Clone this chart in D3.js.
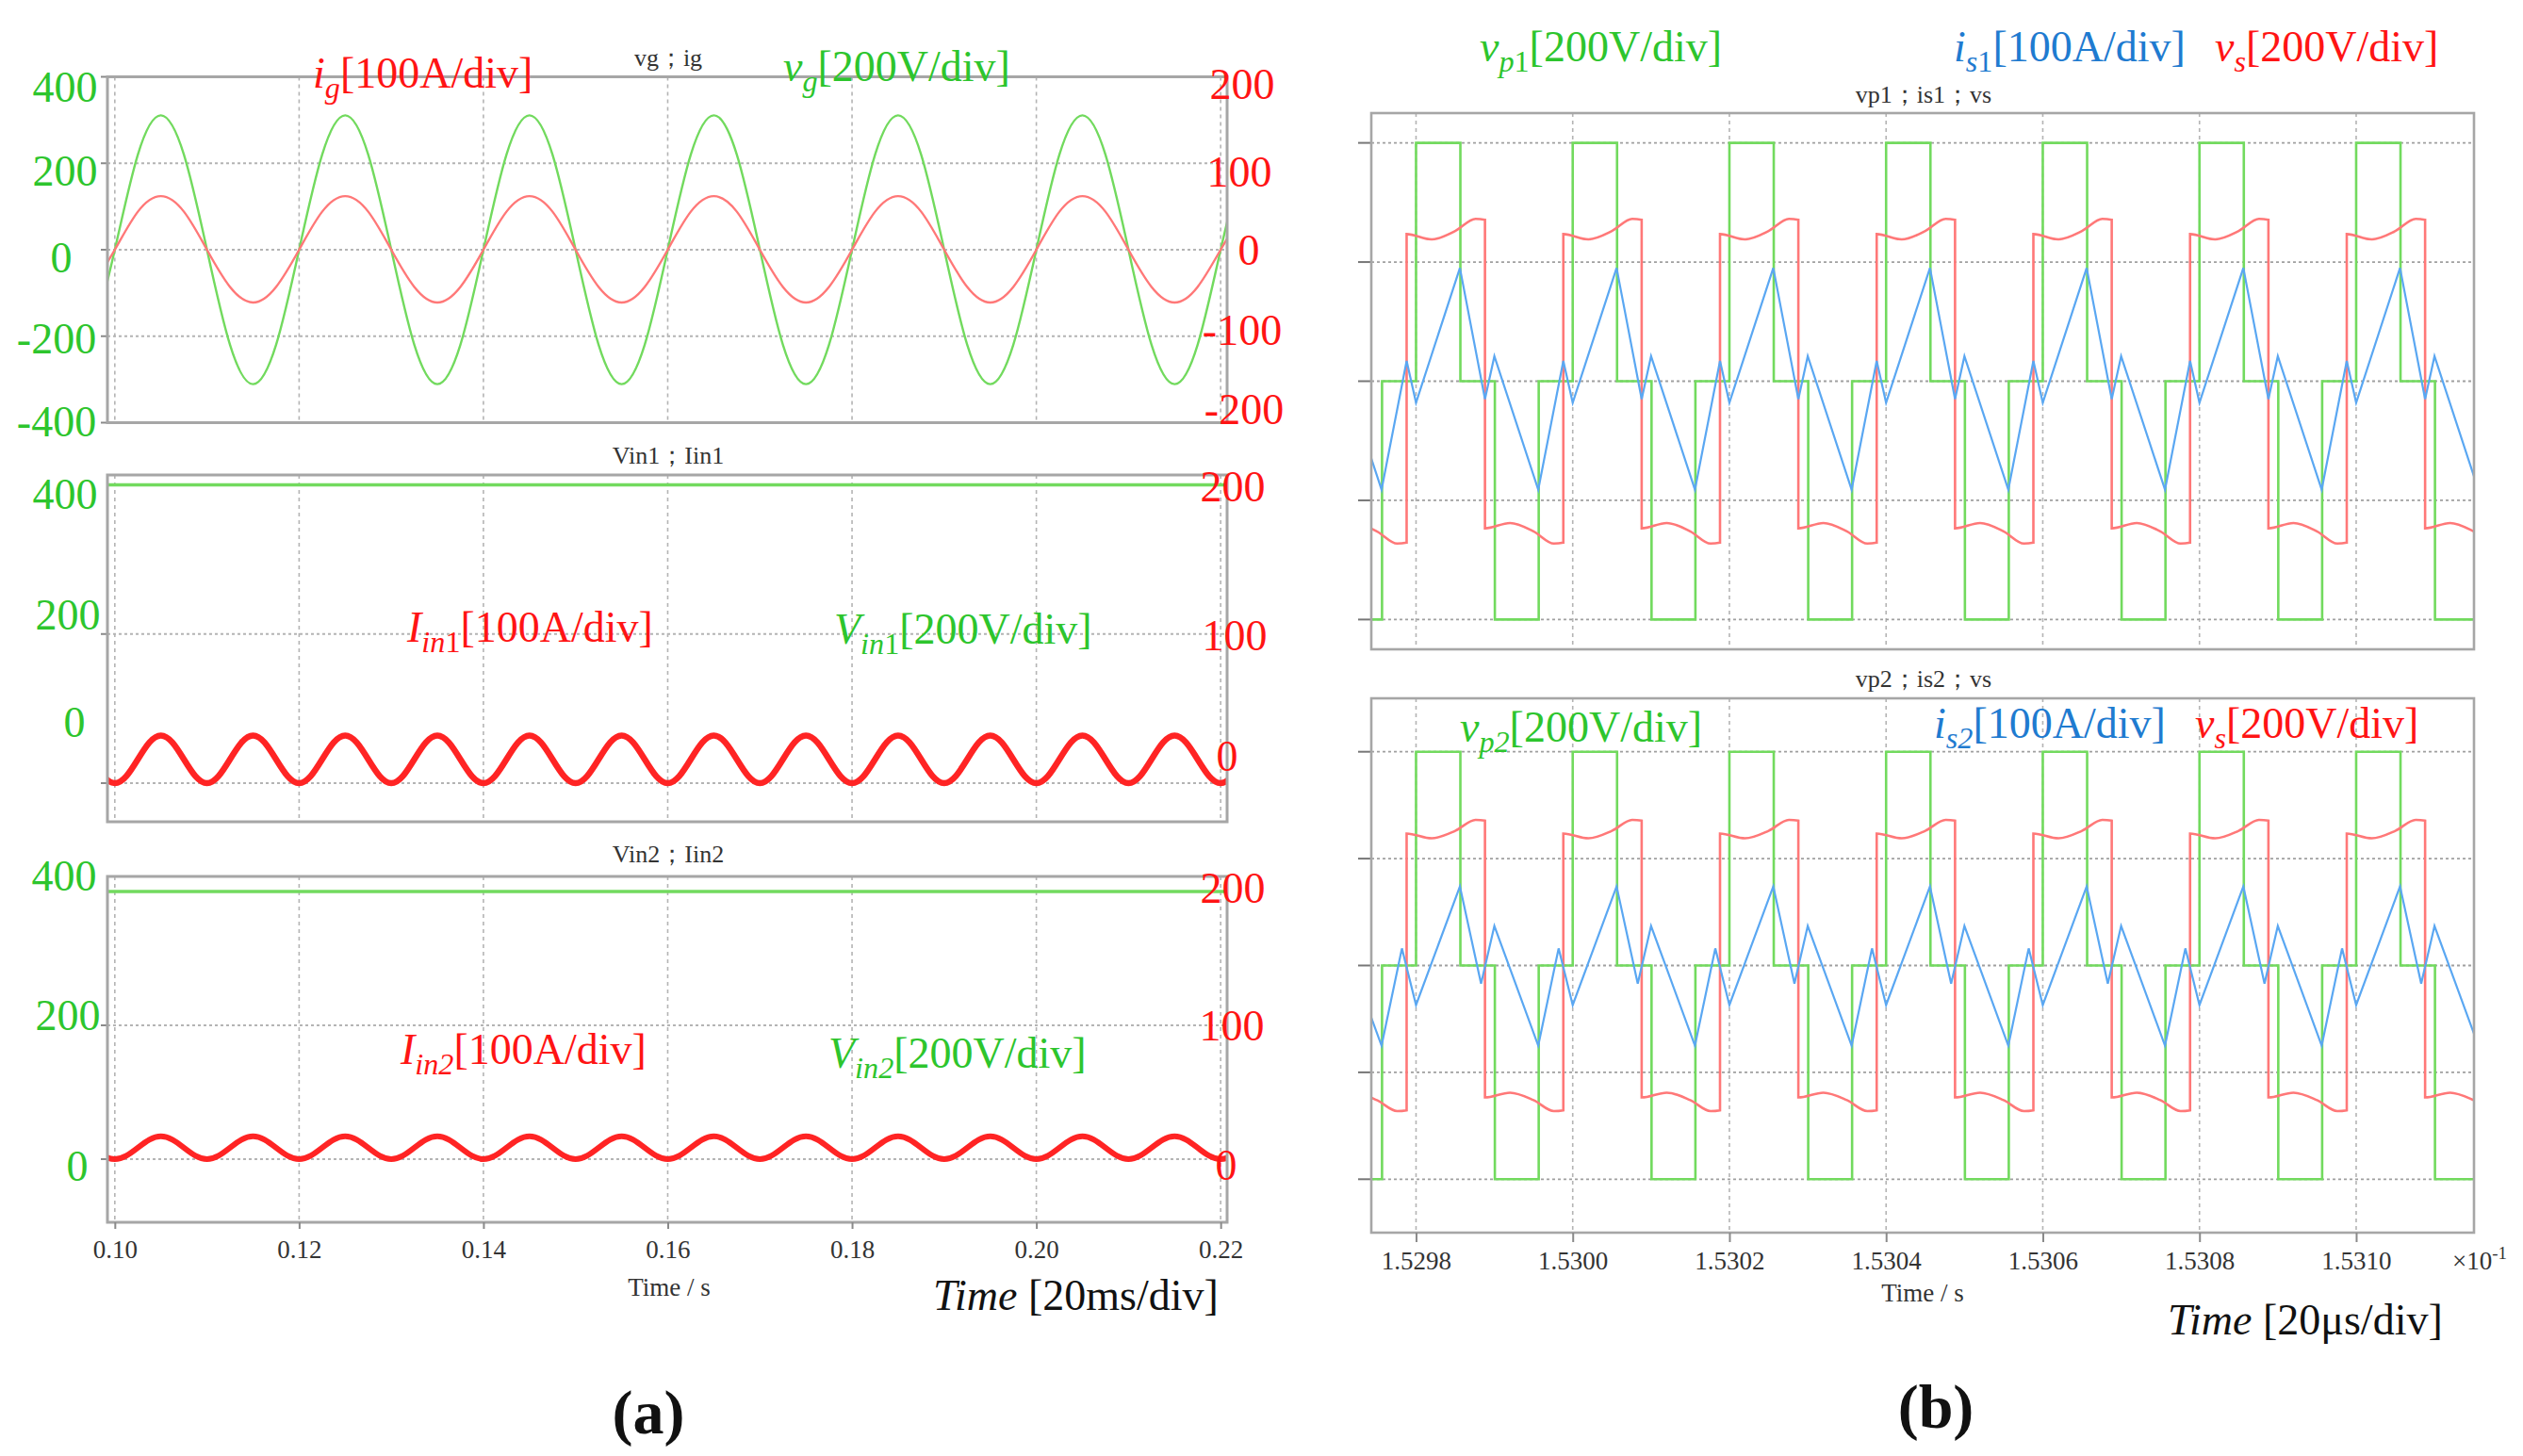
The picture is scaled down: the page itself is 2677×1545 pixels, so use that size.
<!DOCTYPE html>
<html><head><meta charset="utf-8">
<script src="https://cdn.jsdelivr.net/npm/d3@7/dist/d3.min.js"></script>
<style>
body{margin:0;background:#fff}
svg{display:block}
text{font-family:"Liberation Serif","Times New Roman",serif}
</style>
</head><body>
<svg id="c" width="2677" height="1545"></svg>
<script>
// ===================== DATA =====================
// (a) left: time axis in seconds
const leftTimeTicks = [0.10, 0.12, 0.14, 0.16, 0.18, 0.20, 0.22];
const leftTimeTickLabels = ["0.10", "0.12", "0.14", "0.16", "0.18", "0.20", "0.22"];

// vg / ig sampled every 2.5 ms starting at 0.0975 s
const vgStart = 0.0975, vgStep = 0.0025;
const vgValues = [-220,
  0,220,311,220,0,-220,-311,-220,
  0,220,311,220,0,-220,-311,-220,
  0,220,311,220,0,-220,-311,-220,
  0,220,311,220,0,-220,-311,-220,
  0,220,311,220,0,-220,-311,-220,
  0,220,311,220,0,-220,-311,-220,
  0,220];
const igValues = [-43,
  0,44,62,44,0,-43,-61,-43,
  0,44,62,44,0,-43,-61,-43,
  0,44,62,44,0,-43,-61,-43,
  0,44,62,44,0,-43,-61,-43,
  0,44,62,44,0,-43,-61,-43,
  0,44,62,44,0,-43,-61,-43,
  0,44];

// Iin1 / Iin2 sampled every 1.25 ms starting at 0.0975 s
const iinStart = 0.0975, iinStep = 0.00125;
const iin1Values = [16,4.7,
  0,4.7,16,27.3,32,27.3,16,4.7, 0,4.7,16,27.3,32,27.3,16,4.7,
  0,4.7,16,27.3,32,27.3,16,4.7, 0,4.7,16,27.3,32,27.3,16,4.7,
  0,4.7,16,27.3,32,27.3,16,4.7, 0,4.7,16,27.3,32,27.3,16,4.7,
  0,4.7,16,27.3,32,27.3,16,4.7, 0,4.7,16,27.3,32,27.3,16,4.7,
  0,4.7,16,27.3,32,27.3,16,4.7, 0,4.7,16,27.3,32,27.3,16,4.7,
  0,4.7,16,27.3,32,27.3,16,4.7, 0,4.7,16,27.3,32,27.3,16,4.7,
  0,4.7,16];
const iin2Values = [8.5,2.5,
  0,2.5,8.5,14.5,17,14.5,8.5,2.5, 0,2.5,8.5,14.5,17,14.5,8.5,2.5,
  0,2.5,8.5,14.5,17,14.5,8.5,2.5, 0,2.5,8.5,14.5,17,14.5,8.5,2.5,
  0,2.5,8.5,14.5,17,14.5,8.5,2.5, 0,2.5,8.5,14.5,17,14.5,8.5,2.5,
  0,2.5,8.5,14.5,17,14.5,8.5,2.5, 0,2.5,8.5,14.5,17,14.5,8.5,2.5,
  0,2.5,8.5,14.5,17,14.5,8.5,2.5, 0,2.5,8.5,14.5,17,14.5,8.5,2.5,
  0,2.5,8.5,14.5,17,14.5,8.5,2.5, 0,2.5,8.5,14.5,17,14.5,8.5,2.5,
  0,2.5,8.5];
const vin1Wave = [[0.0975, 400], [0.2225, 400]];
const vin2Wave = [[0.0975, 400], [0.2225, 400]];

// y tick labels of the three left scopes
const topLeftTicks = [400, 200, 0, -200, -400];
const topRightTicks = [200, 100, 0, -100, -200];
const midLeftTicks = [400, 200, 0];
const midRightTicks = [200, 100, 0];
const botLeftTicks = [400, 200, 0];
const botRightTicks = [200, 100, 0];

// (b) right: time in microseconds after 152.980 ms (labels in x10^-1 s)
const rightTimeTicks = [0, 20, 40, 60, 80, 100, 120];
const rightTimeTickLabels = ["1.5298", "1.5300", "1.5302", "1.5304", "1.5306", "1.5308", "1.5310"];

// primary voltages (step, value held until next point)
const vp1Wave = [[-8,-400],[-4.34,0],[0,400],[5.66,0],[10.06,-400],[15.66,0],
  [20,400],[25.66,0],[30.06,-400],[35.66,0],
  [40,400],[45.66,0],[50.06,-400],[55.66,0],
  [60,400],[65.66,0],[70.06,-400],[75.66,0],
  [80,400],[85.66,0],[90.06,-400],[95.66,0],
  [100,400],[105.66,0],[110.06,-400],[115.66,0],
  [120,400],[125.66,0],[130.06,-400],[138,-400]];
const vp2Wave = [[-8,-400],[-4.34,0],[0,400],[5.66,0],[10.06,-400],[15.66,0],
  [20,400],[25.66,0],[30.06,-400],[35.66,0],
  [40,400],[45.66,0],[50.06,-400],[55.66,0],
  [60,400],[65.66,0],[70.06,-400],[75.66,0],
  [80,400],[85.66,0],[90.06,-400],[95.66,0],
  [100,400],[105.66,0],[110.06,-400],[115.66,0],
  [120,400],[125.66,0],[130.06,-400],[138,-400]];

// secondary voltage vs
const vsWave = [[-11.2,-247],[-8,-238],[-5,-252],[-2.4,-272.5],[-1.2,-271],
  [-1.2,247],[2,238],[5,252],[7.6,272.5],[8.8,271],[8.8,-247],[12,-238],[15,-252],[17.6,-272.5],[18.8,-271],
  [18.8,247],[22,238],[25,252],[27.6,272.5],[28.8,271],[28.8,-247],[32,-238],[35,-252],[37.6,-272.5],[38.8,-271],
  [38.8,247],[42,238],[45,252],[47.6,272.5],[48.8,271],[48.8,-247],[52,-238],[55,-252],[57.6,-272.5],[58.8,-271],
  [58.8,247],[62,238],[65,252],[67.6,272.5],[68.8,271],[68.8,-247],[72,-238],[75,-252],[77.6,-272.5],[78.8,-271],
  [78.8,247],[82,238],[85,252],[87.6,272.5],[88.8,271],[88.8,-247],[92,-238],[95,-252],[97.6,-272.5],[98.8,-271],
  [98.8,247],[102,238],[105,252],[107.6,272.5],[108.8,271],[108.8,-247],[112,-238],[115,-252],[117.6,-272.5],[118.8,-271],
  [118.8,247],[122,238],[125,252],[127.6,272.5],[128.8,271],[128.8,-247],[132,-238],[135,-252],[137.6,-272.5],[138.8,-271]];

// transformer currents
const is1Wave = [[-10,21],[-4.4,-91],[-1.2,17],[0,-18],[5.6,95],[8.8,-15],[10,21],[15.6,-91],[18.8,17],
  [20,-18],[25.6,95],[28.8,-15],[30,21],[35.6,-91],[38.8,17],
  [40,-18],[45.6,95],[48.8,-15],[50,21],[55.6,-91],[58.8,17],
  [60,-18],[65.6,95],[68.8,-15],[70,21],[75.6,-91],[78.8,17],
  [80,-18],[85.6,95],[88.8,-15],[90,21],[95.6,-91],[98.8,17],
  [100,-18],[105.6,95],[108.8,-15],[110,21],[115.6,-91],[118.8,17],
  [120,-18],[125.6,95],[128.8,-15],[130,21],[135.6,-91],[138.8,17]];
const is2Wave = [[-10,37],[-4.4,-75],[-1.8,16],[0,-37],[5.6,74],[8.3,-17],[10,37],[15.6,-75],[18.2,16],
  [20,-37],[25.6,74],[28.3,-17],[30,37],[35.6,-75],[38.2,16],
  [40,-37],[45.6,74],[48.3,-17],[50,37],[55.6,-75],[58.2,16],
  [60,-37],[65.6,74],[68.3,-17],[70,37],[75.6,-75],[78.2,16],
  [80,-37],[85.6,74],[88.3,-17],[90,37],[95.6,-75],[98.2,16],
  [100,-37],[105.6,74],[108.3,-17],[110,37],[115.6,-75],[118.2,16],
  [120,-37],[125.6,74],[128.3,-17],[130,37],[135.6,-75],[138.2,16]];
const rightGridVolts = [400, 200, 0, -200, -400];

// ===================== STYLE =====================
const C = {
  gTxt: '#2dc52d', rTxt: '#ff1414', bTxt: '#1f7bd0', dark: '#333',
  gLine: '#72da5e', rLine: '#ff7878', rThick: '#ff2424', bLine: '#5aa7f2',
  grid: '#b4b4b4', grid2: '#a0a0a0', frame: '#a6a6a6', tick: '#8a8a8a'
};
const svg = d3.select('#c');
let clipId = 0;

function rich(g, x, y, parts, color, size, anchor) {
  const t = g.append('text').attr('x', x).attr('y', y).attr('fill', color)
    .attr('font-size', size).attr('text-anchor', anchor || 'start');
  let shift = 0;
  parts.forEach(p => {
    const s = t.append('tspan').text(p.t);
    const target = p.sub ? size * 0.24 : (p.sup ? -size * 0.42 : 0);
    s.attr('dy', target - shift); shift = target;
    if (p.sub || p.sup) s.attr('font-size', size * 0.7);
    if (p.it) s.attr('font-style', 'italic');
  });
  return t;
}
function sampled(start, step, values) { return values.map((v, i) => [start + i * step, v]); }
function clipFor(g, x0, y0, x1, y1) {
  const id = 'clip' + (clipId++);
  svg.append('clipPath').attr('id', id).append('rect')
    .attr('x', x0).attr('y', y0).attr('width', x1 - x0).attr('height', y1 - y0);
  return g.append('g').attr('clip-path', `url(#${id})`);
}

// ===================== (a) LEFT =====================
const LX0 = 114, LX1 = 1302;
const xL = d3.scaleLinear().domain([0.0992, 0.2207]).range([LX0, LX1]);

const leftPanels = [
  { y0: 81.5, y1: 448.5, domL: [-400, 400], domR: [-200, 200], grid: [200, 0, -200], tickMarks: [400, 200, 0, -200, -400],
    ticksL: topLeftTicks, lx: [69, 69, 65, 60, 60], ldy: [26.5, 24, 24, 18, 14],
    ticksR: topRightTicks, rx: [1318, 1315, 1325, 1318, 1320], rdy: [23, 25, 16, 9, 1],
    title: 'vg；ig', titleY: 70 },
  { y0: 504, y1: 872, domL: [-51.8, 413.3], domR: [-25.9, 206.65], grid: [400, 200, 0], tickMarks: [200, 0],
    ticksL: midLeftTicks, lx: [69, 72, 79], ldy: [25.5, -4.75, -49],
    ticksR: midRightTicks, rx: [1308, 1310, 1302], rdy: [17.5, 17.25, -13],
    title: 'Vin1；Iin1', titleY: 492 },
  { y0: 930, y1: 1297, domL: [-94.4, 422.5], domR: [-47.2, 211.25], grid: [400, 200, 0], tickMarks: [200, 0],
    ticksL: botLeftTicks, lx: [68, 72, 82], ldy: [-1, 5, 23],
    ticksR: botRightTicks, rx: [1308, 1307, 1301], rdy: [12, 16, 22],
    title: 'Vin2；Iin2', titleY: 915 }
];

leftPanels.forEach((p, k) => {
  const g = svg.append('g');
  const yL = d3.scaleLinear().domain(p.domL).range([p.y1, p.y0]);
  const yR = d3.scaleLinear().domain(p.domR).range([p.y1, p.y0]);
  // grids
  g.selectAll('line.vg').data(leftTimeTicks).join('line')
    .attr('x1', d => xL(d)).attr('x2', d => xL(d)).attr('y1', p.y0).attr('y2', p.y1)
    .attr('stroke', C.grid).attr('stroke-width', 1.6).attr('stroke-dasharray', '4 4');
  g.selectAll('line.hg').data(p.grid).join('line')
    .attr('x1', LX0).attr('x2', LX1).attr('y1', d => yL(d)).attr('y2', d => yL(d))
    .attr('stroke', C.grid).attr('stroke-width', 1.8).attr('stroke-dasharray', '3 3');
  g.selectAll('line.tm').data(p.tickMarks).join('line')
    .attr('x1', LX0 - 7).attr('x2', LX0).attr('y1', d => yL(d)).attr('y2', d => yL(d))
    .attr('stroke', C.tick).attr('stroke-width', 2);
  // series
  const cg = clipFor(g, LX0, p.y0, LX1, p.y1);
  const lineL = d3.line().x(d => xL(d[0])).y(d => yL(d[1])).curve(d3.curveNatural);
  const lineR = d3.line().x(d => xL(d[0])).y(d => yR(d[1])).curve(d3.curveNatural);
  if (k === 0) {
    cg.append('path').attr('d', lineL(sampled(vgStart, vgStep, vgValues)))
      .attr('fill', 'none').attr('stroke', C.gLine).attr('stroke-width', 2.4);
    cg.append('path').attr('d', lineR(sampled(vgStart, vgStep, igValues)))
      .attr('fill', 'none').attr('stroke', C.rLine).attr('stroke-width', 2.4);
  } else {
    cg.append('path').attr('d', d3.line().x(d => xL(d[0])).y(d => yL(d[1]))(k === 1 ? vin1Wave : vin2Wave))
      .attr('fill', 'none').attr('stroke', C.gLine).attr('stroke-width', 3.5);
    cg.append('path').attr('d', lineR(sampled(iinStart, iinStep, k === 1 ? iin1Values : iin2Values)))
      .attr('fill', 'none').attr('stroke', C.rThick).attr('stroke-width', k === 1 ? 6.5 : 6)
      .attr('stroke-linejoin', 'round');
  }
  // frame
  g.append('rect').attr('x', LX0).attr('y', p.y0).attr('width', LX1 - LX0).attr('height', p.y1 - p.y0)
    .attr('fill', 'none').attr('stroke', C.frame).attr('stroke-width', 3);
  // tick labels
  g.selectAll('text.tl').data(p.ticksL).join('text')
    .attr('x', (d, i) => p.lx[i]).attr('y', (d, i) => yL(d) + p.ldy[i])
    .attr('text-anchor', 'middle').attr('font-size', 46).attr('fill', C.gTxt).text(d => d);
  g.selectAll('text.tr').data(p.ticksR).join('text')
    .attr('x', (d, i) => p.rx[i]).attr('y', (d, i) => yR(d) + p.rdy[i])
    .attr('text-anchor', 'middle').attr('font-size', 46).attr('fill', C.rTxt).text(d => d);
  // title
  g.append('text').attr('x', 709).attr('y', p.titleY).attr('text-anchor', 'middle')
    .attr('font-size', 26).attr('fill', C.dark).text(p.title);
});

// left bottom time axis
const axL = svg.append('g').attr('transform', `translate(0,${leftPanels[2].y1})`)
  .call(d3.axisBottom(xL).tickValues(leftTimeTicks).tickFormat((d, i) => leftTimeTickLabels[i]).tickSize(7).tickSizeOuter(0));
axL.select('.domain').remove();
axL.selectAll('line').attr('stroke', C.tick).attr('stroke-width', 2);
axL.selectAll('text').attr('y', 38).attr('dy', 0).attr('font-size', 27).attr('fill', C.dark)
  .attr('font-family', '"Liberation Serif","Times New Roman",serif');

// left labels
const La = svg.append('g');
rich(La, 332, 93, [{t: 'i', it: true}, {t: 'g', it: true, sub: true}, {t: '[100A/div]'}], C.rTxt, 46);
rich(La, 831, 86, [{t: 'v', it: true}, {t: 'g', it: true, sub: true}, {t: '[200V/div]'}], C.gTxt, 46);
rich(La, 432, 681, [{t: 'I', it: true}, {t: 'in', it: true, sub: true}, {t: '1', sub: true}, {t: '[100A/div]'}], C.rTxt, 46);
rich(La, 885, 683, [{t: 'V', it: true}, {t: 'in', it: true, sub: true}, {t: '1', sub: true}, {t: '[200V/div]'}], C.gTxt, 46);
rich(La, 425, 1129, [{t: 'I', it: true}, {t: 'in2', it: true, sub: true}, {t: '[100A/div]'}], C.rTxt, 46);
rich(La, 879, 1133, [{t: 'V', it: true}, {t: 'in2', it: true, sub: true}, {t: '[200V/div]'}], C.gTxt, 46);
La.append('text').attr('x', 710).attr('y', 1375).attr('text-anchor', 'middle').attr('font-size', 27).attr('fill', C.dark).text('Time / s');
rich(La, 990, 1390, [{t: 'Time', it: true}, {t: ' [20ms/div]'}], '#111', 46);
La.append('text').attr('x', 688).attr('y', 1521).attr('text-anchor', 'middle').attr('font-size', 66)
  .attr('font-weight', 'bold').attr('fill', '#111').text('(a)');

// ===================== (b) RIGHT =====================
const RX0 = 1455, RX1 = 2625;
const xR = d3.scaleLinear().domain([-5.71, 135.04]).range([RX0, RX1]);
const rightPanels = [
  { y0: 120, y1: 689, domV: [-450, 450], domA: [-225, 225], vp: vp1Wave, is: is1Wave, title: 'vp1；is1；vs', titleY: 109 },
  { y0: 741, y1: 1308, domV: [-500, 500], domA: [-250, 250], vp: vp2Wave, is: is2Wave, title: 'vp2；is2；vs', titleY: 729 }
];
rightPanels.forEach((p, k) => {
  const g = svg.append('g');
  const yV = d3.scaleLinear().domain(p.domV).range([p.y1, p.y0]);
  const yA = d3.scaleLinear().domain(p.domA).range([p.y1, p.y0]);
  g.selectAll('line.vg').data(rightTimeTicks).join('line')
    .attr('x1', d => xR(d)).attr('x2', d => xR(d)).attr('y1', p.y0).attr('y2', p.y1)
    .attr('stroke', C.grid).attr('stroke-width', 1.6).attr('stroke-dasharray', '4 4');
  g.selectAll('line.hg').data(rightGridVolts).join('line')
    .attr('x1', RX0).attr('x2', RX1).attr('y1', d => yV(d)).attr('y2', d => yV(d))
    .attr('stroke', C.grid2).attr('stroke-width', 1.8).attr('stroke-dasharray', '3 3');
  g.selectAll('line.tm').data(rightGridVolts).join('line')
    .attr('x1', RX0 - 14).attr('x2', RX0).attr('y1', d => yV(d)).attr('y2', d => yV(d))
    .attr('stroke', '#777').attr('stroke-width', 2);
  const cg = clipFor(g, RX0, p.y0, RX1, p.y1);
  cg.append('path').attr('d', d3.line().x(d => xR(d[0])).y(d => yV(d[1])).curve(d3.curveStepAfter)(p.vp))
    .attr('fill', 'none').attr('stroke', C.gLine).attr('stroke-width', 2.6);
  cg.append('path').attr('d', d3.line().x(d => xR(d[0])).y(d => yV(d[1])).curve(d3.curveMonotoneX)(vsWave))
    .attr('fill', 'none').attr('stroke', C.rLine).attr('stroke-width', 2.6);
  cg.append('path').attr('d', d3.line().x(d => xR(d[0])).y(d => yA(d[1]))(p.is))
    .attr('fill', 'none').attr('stroke', C.bLine).attr('stroke-width', 2.2);
  g.append('rect').attr('x', RX0).attr('y', p.y0).attr('width', RX1 - RX0).attr('height', p.y1 - p.y0)
    .attr('fill', 'none').attr('stroke', C.frame).attr('stroke-width', 2.6);
  g.append('text').attr('x', 2041).attr('y', p.titleY).attr('text-anchor', 'middle')
    .attr('font-size', 26).attr('fill', C.dark).text(p.title);
});
const axR = svg.append('g').attr('transform', `translate(0,${rightPanels[1].y1})`)
  .call(d3.axisBottom(xR).tickValues(rightTimeTicks).tickFormat((d, i) => rightTimeTickLabels[i]).tickSize(10).tickSizeOuter(0));
axR.select('.domain').remove();
axR.selectAll('line').attr('stroke', C.tick).attr('stroke-width', 2);
axR.selectAll('text').attr('y', 39).attr('dy', 0).attr('font-size', 27).attr('fill', C.dark)
  .attr('font-family', '"Liberation Serif","Times New Roman",serif');

const Lb = svg.append('g');
rich(Lb, 1570, 65, [{t: 'v', it: true}, {t: 'p', it: true, sub: true}, {t: '1', sub: true}, {t: '[200V/div]'}], C.gTxt, 46);
rich(Lb, 2073, 65, [{t: 'i', it: true}, {t: 's', it: true, sub: true}, {t: '1', sub: true}, {t: '[100A/div]'}], C.bTxt, 46);
rich(Lb, 2350, 65, [{t: 'v', it: true}, {t: 's', it: true, sub: true}, {t: '[200V/div]'}], C.rTxt, 46);
rich(Lb, 1549, 787, [{t: 'v', it: true}, {t: 'p2', it: true, sub: true}, {t: '[200V/div]'}], C.gTxt, 46);
rich(Lb, 2052, 783, [{t: 'i', it: true}, {t: 's2', it: true, sub: true}, {t: '[100A/div]'}], C.bTxt, 46);
rich(Lb, 2329, 783, [{t: 'v', it: true}, {t: 's', it: true, sub: true}, {t: '[200V/div]'}], C.rTxt, 46);
rich(Lb, 2602, 1347, [{t: '×10'}, {t: '-1', sup: true}], C.dark, 27);
Lb.append('text').attr('x', 2040).attr('y', 1381).attr('text-anchor', 'middle').attr('font-size', 27).attr('fill', C.dark).text('Time / s');
rich(Lb, 2300, 1416, [{t: 'Time', it: true}, {t: ' [20μs/div]'}], '#111', 46);
Lb.append('text').attr('x', 2054).attr('y', 1515).attr('text-anchor', 'middle').attr('font-size', 66)
  .attr('font-weight', 'bold').attr('fill', '#111').text('(b)');
</script>
</body></html>
